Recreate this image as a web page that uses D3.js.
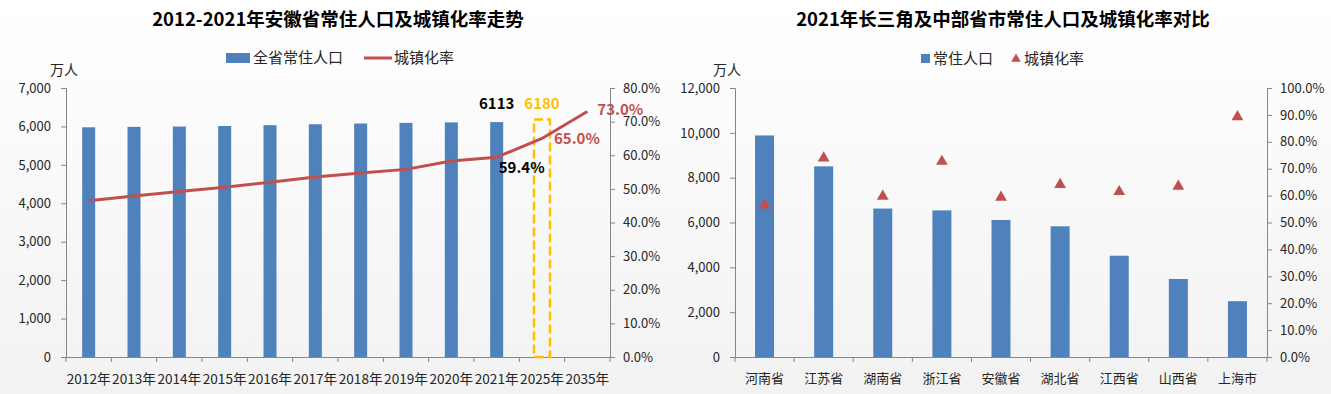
<!DOCTYPE html>
<html>
<head>
<meta charset="utf-8">
<script src="https://cdn.jsdelivr.net/npm/d3@7"></script>
<style>
  body { margin: 0; background: #fff; }
  svg text { font-family: "Microsoft YaHei", "Noto Sans CJK SC", sans-serif; }
  .axis path, .axis line { stroke: #868686; }
  .axis text { fill: #262626; font-size: 13px; }
</style>
</head>
<body>
<svg id="chart" width="1331" height="394"></svg>
<script>
// left chart data
var years = ["2012年", "2013年", "2014年", "2015年", "2016年", "2017年", "2018年", "2019年", "2020年", "2021年", "2025年", "2035年"];
var popYears = ["2012年", "2013年", "2014年", "2015年", "2016年", "2017年", "2018年", "2019年", "2020年", "2021年"];
var popAnhui = [5978, 5988, 5997, 6011, 6033, 6057, 6076, 6092, 6105, 6113];
var popForecast = [{year: "2025年", value: 6180}];
var urbanRate = [46.5, 47.9, 49.2, 50.5, 52.0, 53.5, 54.7, 55.8, 58.3, 59.4, 65.0, 73.0];

// right chart data
var provinces = ["河南省", "江苏省", "湖南省", "浙江省", "安徽省", "湖北省", "江西省", "山西省", "上海市"];
var popProv = [9883, 8505, 6622, 6540, 6113, 5830, 4517, 3480, 2489];
var urbanProv = [56.45, 73.94, 59.71, 72.7, 59.39, 64.09, 61.46, 63.42, 89.3];

var blue = "#4f81bd", red = "#c0504d", gold = "#ffc000";
var top0 = 88, bottom0 = 357;

var svg = d3.select("#chart");

var defs = svg.append("defs");
var grad = defs.append("linearGradient").attr("id", "bg").attr("x1", 0).attr("y1", 0).attr("x2", 0).attr("y2", 1);
grad.append("stop").attr("offset", "0%").attr("stop-color", "#ffffff");
grad.append("stop").attr("offset", "100%").attr("stop-color", "#f2f2f2");
svg.append("rect").attr("width", 1331).attr("height", 394).attr("fill", "url(#bg)");

function title(x, txt) {
    svg.append("text")
        .attr("x", x).attr("y", 26)
        .attr("text-anchor", "middle")
        .attr("font-size", 18.5)
        .attr("font-weight", "bold")
        .attr("fill", "#000")
        .text(txt);
}

function unitLabel(x) {
    svg.append("text")
        .attr("x", x).attr("y", 75)
        .attr("text-anchor", "middle")
        .attr("font-size", 14)
        .attr("fill", "#262626")
        .text("万人");
}

// ---------- left chart ----------
var L = {left: 66, right: 610};

var xL = d3.scaleBand().domain(years).range([L.left, L.right]);
var yL = d3.scaleLinear().domain([0, 7000]).range([bottom0, top0]);
var yL2 = d3.scaleLinear().domain([0, 80]).range([bottom0, top0]);

title(338, "2012-2021年安徽省常住人口及城镇化率走势");
unitLabel(64);

// legend
var legL = svg.append("g");
legL.append("rect").attr("x", 226).attr("y", 53).attr("width", 24).attr("height", 10).attr("fill", blue);
legL.append("text").attr("x", 253).attr("y", 63).attr("font-size", 15).attr("fill", "#262626").text("全省常住人口");
legL.append("line").attr("x1", 364).attr("x2", 392).attr("y1", 58).attr("y2", 58).attr("stroke", red).attr("stroke-width", 3);
legL.append("text").attr("x", 394).attr("y", 63).attr("font-size", 15).attr("fill", "#262626").text("城镇化率");

// axes
svg.append("g")
    .attr("class", "axis")
    .attr("transform", "translate(" + L.left + ",0)")
    .call(d3.axisLeft(yL).ticks(7).tickFormat(d3.format(",")).tickSize(5).tickSizeOuter(5).tickPadding(10));

svg.append("g")
    .attr("class", "axis")
    .attr("transform", "translate(" + L.right + ",0)")
    .call(d3.axisRight(yL2).ticks(8).tickFormat(function (d) { return d.toFixed(1) + "%"; }).tickSize(5).tickSizeOuter(5).tickPadding(8));

var xAxisL = svg.append("g")
    .attr("class", "axis")
    .attr("transform", "translate(0," + bottom0 + ")")
    .call(d3.axisBottom(xL).tickSize(0).tickPadding(17));
xAxisL.selectAll("text").attr("fill", "#000").style("font-size", "13.6px");
// category boundary ticks
xAxisL.selectAll(".bound")
    .data(d3.range(years.length + 1))
    .enter().append("line")
    .attr("class", "bound")
    .attr("x1", function (i) { return L.left + i * xL.step(); })
    .attr("x2", function (i) { return L.left + i * xL.step(); })
    .attr("y1", 0).attr("y2", 5);

// bars
var barW = 13;
svg.append("g").selectAll("rect")
    .data(popAnhui)
    .enter().append("rect")
    .attr("x", function (d, i) { return xL(popYears[i]) + xL.bandwidth() / 2 - barW / 2; })
    .attr("y", function (d) { return yL(d); })
    .attr("width", barW)
    .attr("height", function (d) { return bottom0 - yL(d); })
    .attr("fill", blue);

// forecast bar (dashed outline)
svg.append("g").selectAll("rect")
    .data(popForecast)
    .enter().append("rect")
    .attr("x", function (d) { return xL(d.year) + xL.bandwidth() / 2 - 8; })
    .attr("y", function (d) { return yL(d.value); })
    .attr("width", 16)
    .attr("height", function (d) { return bottom0 - yL(d.value); })
    .attr("fill", "none")
    .attr("stroke", gold)
    .attr("stroke-width", 2.5)
    .attr("stroke-dasharray", "9,4");

// line
var line = d3.line()
    .x(function (d, i) { return xL(years[i]) + xL.bandwidth() / 2; })
    .y(function (d) { return yL2(d); });

svg.append("path")
    .attr("d", line(urbanRate))
    .attr("fill", "none")
    .attr("stroke", red)
    .attr("stroke-width", 3);

// data labels
function cx(cat) { return xL(cat) + xL.bandwidth() / 2; }
var last = popAnhui.length - 1;
svg.append("text").attr("x", cx(popYears[last])).attr("y", yL(popAnhui[last]) - 13)
    .attr("text-anchor", "middle").attr("font-size", 15).attr("font-weight", "bold").attr("fill", "#000")
    .text(popAnhui[last]);
svg.append("text").attr("x", cx(popForecast[0].year)).attr("y", yL(popAnhui[last]) - 13)
    .attr("text-anchor", "middle").attr("font-size", 15).attr("font-weight", "bold").attr("fill", gold)
    .text(popForecast[0].value);
svg.append("text").attr("x", cx("2021年") + 25).attr("y", yL2(urbanRate[9]) + 16)
    .attr("text-anchor", "middle").attr("font-size", 15).attr("font-weight", "bold").attr("fill", "#000")
    .text(urbanRate[9].toFixed(1) + "%");
svg.append("text").attr("x", cx("2025年") + 12).attr("y", yL2(urbanRate[10]) + 6)
    .attr("font-size", 15).attr("font-weight", "bold").attr("fill", red)
    .text(urbanRate[10].toFixed(1) + "%");
svg.append("text").attr("x", cx("2035年") + 10).attr("y", yL2(urbanRate[11]) + 3)
    .attr("font-size", 15).attr("font-weight", "bold").attr("fill", red)
    .text(urbanRate[11].toFixed(1) + "%");

// ---------- right chart ----------
var R = {left: 735, right: 1267};

var xR = d3.scaleBand().domain(provinces).range([R.left, R.right]);
var yR = d3.scaleLinear().domain([0, 12000]).range([bottom0, top0]);
var yR2 = d3.scaleLinear().domain([0, 100]).range([bottom0, top0]);

title(1003, "2021年长三角及中部省市常住人口及城镇化率对比");
unitLabel(727);

var legR = svg.append("g");
legR.append("rect").attr("x", 921).attr("y", 54).attr("width", 9).attr("height", 9).attr("fill", blue);
legR.append("text").attr("x", 933).attr("y", 64).attr("font-size", 15).attr("fill", "#262626").text("常住人口");
legR.append("path").attr("d", d3.symbol().type(d3.symbolTriangle).size(40)()).attr("transform", "translate(1016,59)").attr("fill", red);
legR.append("text").attr("x", 1024).attr("y", 64).attr("font-size", 15).attr("fill", "#262626").text("城镇化率");

svg.append("g")
    .attr("class", "axis")
    .attr("transform", "translate(" + R.left + ",0)")
    .call(d3.axisLeft(yR).ticks(6).tickFormat(d3.format(",")).tickSize(5).tickSizeOuter(5).tickPadding(10));

svg.append("g")
    .attr("class", "axis")
    .attr("transform", "translate(" + R.right + ",0)")
    .call(d3.axisRight(yR2).ticks(10).tickFormat(function (d) { return d.toFixed(1) + "%"; }).tickSize(5).tickSizeOuter(5).tickPadding(8));

var xAxisR = svg.append("g")
    .attr("class", "axis")
    .attr("transform", "translate(0," + bottom0 + ")")
    .call(d3.axisBottom(xR).tickSize(0).tickPadding(17));
xAxisR.selectAll("text").attr("fill", "#000");
xAxisR.selectAll(".bound")
    .data(d3.range(provinces.length + 1))
    .enter().append("line")
    .attr("class", "bound")
    .attr("x1", function (i) { return R.left + i * xR.step(); })
    .attr("x2", function (i) { return R.left + i * xR.step(); })
    .attr("y1", 0).attr("y2", 5);

var barW2 = 19;
svg.append("g").selectAll("rect")
    .data(popProv)
    .enter().append("rect")
    .attr("x", function (d, i) { return xR(provinces[i]) + xR.bandwidth() / 2 - barW2 / 2; })
    .attr("y", function (d) { return yR(d); })
    .attr("width", barW2)
    .attr("height", function (d) { return bottom0 - yR(d); })
    .attr("fill", blue);

svg.append("g").selectAll("path")
    .data(urbanProv)
    .enter().append("path")
    .attr("d", d3.symbol().type(d3.symbolTriangle).size(60)())
    .attr("transform", function (d, i) {
        return "translate(" + (xR(provinces[i]) + xR.bandwidth() / 2) + "," + yR2(d) + ")";
    })
    .attr("fill", red);
</script>
</body>
</html>
